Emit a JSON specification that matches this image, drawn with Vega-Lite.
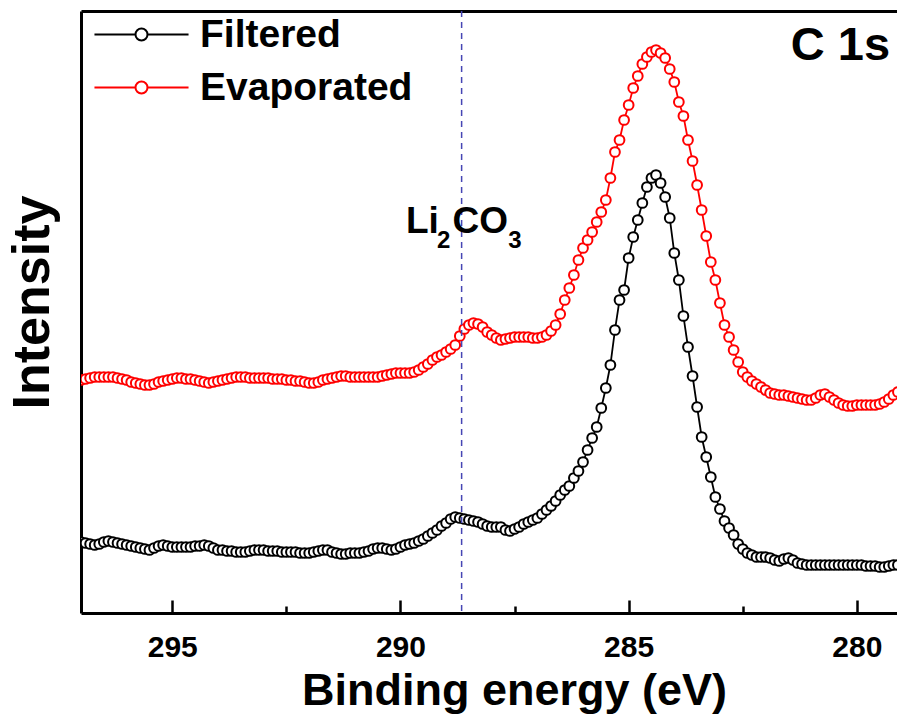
{
  "$schema": "https://vega.github.io/schema/vega-lite/v6.json",
  "width": 816,
  "height": 602,
  "autosize": {"type": "none"},
  "padding": {"left": 81, "top": 11, "right": 0, "bottom": 106},
  "background": "white",
  "config": {"view": {"stroke": null}, "font": "Liberation Sans"},
  "datasets": {
    "spectra": [
      {"e":297,"s":"Filtered","v":71},{"e":296.9,"s":"Filtered","v":70},{"e":296.8,"s":"Filtered","v":69},{"e":296.7,"s":"Filtered","v":68},{"e":296.6,"s":"Filtered","v":69},{"e":296.5,"s":"Filtered","v":71},{"e":296.4,"s":"Filtered","v":72},{"e":296.3,"s":"Filtered","v":71},{"e":296.2,"s":"Filtered","v":70},{"e":296.1,"s":"Filtered","v":69},
      {"e":296,"s":"Filtered","v":68},{"e":295.9,"s":"Filtered","v":67},{"e":295.8,"s":"Filtered","v":66},{"e":295.7,"s":"Filtered","v":65},{"e":295.6,"s":"Filtered","v":64},{"e":295.5,"s":"Filtered","v":63},{"e":295.4,"s":"Filtered","v":65},{"e":295.3,"s":"Filtered","v":67},{"e":295.2,"s":"Filtered","v":68},{"e":295.1,"s":"Filtered","v":67},
      {"e":295,"s":"Filtered","v":66},{"e":294.9,"s":"Filtered","v":66},{"e":294.8,"s":"Filtered","v":66},{"e":294.7,"s":"Filtered","v":66},{"e":294.6,"s":"Filtered","v":66},{"e":294.5,"s":"Filtered","v":67},{"e":294.4,"s":"Filtered","v":67},{"e":294.3,"s":"Filtered","v":68},{"e":294.2,"s":"Filtered","v":67},{"e":294.1,"s":"Filtered","v":65},
      {"e":294,"s":"Filtered","v":63},{"e":293.9,"s":"Filtered","v":63},{"e":293.8,"s":"Filtered","v":62},{"e":293.7,"s":"Filtered","v":62},{"e":293.6,"s":"Filtered","v":61},{"e":293.5,"s":"Filtered","v":61},{"e":293.4,"s":"Filtered","v":61},{"e":293.3,"s":"Filtered","v":62},{"e":293.2,"s":"Filtered","v":63},{"e":293.1,"s":"Filtered","v":63},
      {"e":293,"s":"Filtered","v":63},{"e":292.9,"s":"Filtered","v":62},{"e":292.8,"s":"Filtered","v":62},{"e":292.7,"s":"Filtered","v":62},{"e":292.6,"s":"Filtered","v":61},{"e":292.5,"s":"Filtered","v":61},{"e":292.4,"s":"Filtered","v":61},{"e":292.3,"s":"Filtered","v":61},{"e":292.2,"s":"Filtered","v":60},{"e":292.1,"s":"Filtered","v":60},
      {"e":292,"s":"Filtered","v":60},{"e":291.9,"s":"Filtered","v":61},{"e":291.8,"s":"Filtered","v":62},{"e":291.7,"s":"Filtered","v":63},{"e":291.6,"s":"Filtered","v":63},{"e":291.5,"s":"Filtered","v":61},{"e":291.4,"s":"Filtered","v":60},{"e":291.3,"s":"Filtered","v":59},{"e":291.2,"s":"Filtered","v":59},{"e":291.1,"s":"Filtered","v":60},
      {"e":291,"s":"Filtered","v":60},{"e":290.9,"s":"Filtered","v":60},{"e":290.8,"s":"Filtered","v":61},{"e":290.7,"s":"Filtered","v":62},{"e":290.6,"s":"Filtered","v":64},{"e":290.5,"s":"Filtered","v":65},{"e":290.4,"s":"Filtered","v":65},{"e":290.3,"s":"Filtered","v":64},{"e":290.2,"s":"Filtered","v":63},{"e":290.1,"s":"Filtered","v":64},
      {"e":290,"s":"Filtered","v":66},{"e":289.9,"s":"Filtered","v":68},{"e":289.8,"s":"Filtered","v":69},{"e":289.7,"s":"Filtered","v":70},{"e":289.6,"s":"Filtered","v":72},{"e":289.5,"s":"Filtered","v":74},{"e":289.4,"s":"Filtered","v":77},{"e":289.3,"s":"Filtered","v":80},{"e":289.2,"s":"Filtered","v":83},{"e":289.1,"s":"Filtered","v":87},
      {"e":289,"s":"Filtered","v":90},{"e":288.9,"s":"Filtered","v":94},{"e":288.8,"s":"Filtered","v":96},{"e":288.7,"s":"Filtered","v":95},{"e":288.6,"s":"Filtered","v":94},{"e":288.5,"s":"Filtered","v":93},{"e":288.4,"s":"Filtered","v":92},{"e":288.3,"s":"Filtered","v":91},{"e":288.2,"s":"Filtered","v":89},{"e":288.1,"s":"Filtered","v":87},
      {"e":288,"s":"Filtered","v":86},{"e":287.9,"s":"Filtered","v":86},{"e":287.8,"s":"Filtered","v":86},{"e":287.7,"s":"Filtered","v":83},{"e":287.6,"s":"Filtered","v":82},{"e":287.5,"s":"Filtered","v":84},{"e":287.4,"s":"Filtered","v":86},{"e":287.3,"s":"Filtered","v":89},{"e":287.2,"s":"Filtered","v":91},{"e":287.1,"s":"Filtered","v":93},
      {"e":287,"s":"Filtered","v":95},{"e":286.9,"s":"Filtered","v":99},{"e":286.8,"s":"Filtered","v":103},{"e":286.7,"s":"Filtered","v":107},{"e":286.6,"s":"Filtered","v":112},{"e":286.5,"s":"Filtered","v":118},{"e":286.4,"s":"Filtered","v":123},{"e":286.3,"s":"Filtered","v":127},{"e":286.2,"s":"Filtered","v":135},{"e":286.1,"s":"Filtered","v":142},
      {"e":286,"s":"Filtered","v":151},{"e":285.9,"s":"Filtered","v":163},{"e":285.8,"s":"Filtered","v":175},{"e":285.7,"s":"Filtered","v":186},{"e":285.6,"s":"Filtered","v":205},{"e":285.5,"s":"Filtered","v":225},{"e":285.4,"s":"Filtered","v":248},{"e":285.3,"s":"Filtered","v":283},{"e":285.2,"s":"Filtered","v":313},{"e":285.1,"s":"Filtered","v":323},
      {"e":285,"s":"Filtered","v":355},{"e":284.9,"s":"Filtered","v":376},{"e":284.8,"s":"Filtered","v":393},{"e":284.7,"s":"Filtered","v":410},{"e":284.6,"s":"Filtered","v":426},{"e":284.5,"s":"Filtered","v":435},{"e":284.4,"s":"Filtered","v":438},{"e":284.3,"s":"Filtered","v":430},{"e":284.2,"s":"Filtered","v":416},{"e":284.1,"s":"Filtered","v":395},
      {"e":284,"s":"Filtered","v":360},{"e":283.9,"s":"Filtered","v":333},{"e":283.8,"s":"Filtered","v":297},{"e":283.7,"s":"Filtered","v":266},{"e":283.6,"s":"Filtered","v":237},{"e":283.5,"s":"Filtered","v":206},{"e":283.4,"s":"Filtered","v":176},{"e":283.3,"s":"Filtered","v":156},{"e":283.2,"s":"Filtered","v":136},{"e":283.1,"s":"Filtered","v":116},
      {"e":283,"s":"Filtered","v":104},{"e":282.9,"s":"Filtered","v":92},{"e":282.8,"s":"Filtered","v":85},{"e":282.7,"s":"Filtered","v":78},{"e":282.6,"s":"Filtered","v":69},{"e":282.5,"s":"Filtered","v":64},{"e":282.4,"s":"Filtered","v":60},{"e":282.3,"s":"Filtered","v":58},{"e":282.2,"s":"Filtered","v":56},{"e":282.1,"s":"Filtered","v":56},
      {"e":282,"s":"Filtered","v":56},{"e":281.9,"s":"Filtered","v":55},{"e":281.8,"s":"Filtered","v":53},{"e":281.7,"s":"Filtered","v":52},{"e":281.6,"s":"Filtered","v":54},{"e":281.5,"s":"Filtered","v":55},{"e":281.4,"s":"Filtered","v":53},{"e":281.3,"s":"Filtered","v":50},{"e":281.2,"s":"Filtered","v":49},{"e":281.1,"s":"Filtered","v":48},
      {"e":281,"s":"Filtered","v":48},{"e":280.9,"s":"Filtered","v":48},{"e":280.8,"s":"Filtered","v":48},{"e":280.7,"s":"Filtered","v":48},{"e":280.6,"s":"Filtered","v":48},{"e":280.5,"s":"Filtered","v":48},{"e":280.4,"s":"Filtered","v":48},{"e":280.3,"s":"Filtered","v":48},{"e":280.2,"s":"Filtered","v":48},{"e":280.1,"s":"Filtered","v":48},
      {"e":280,"s":"Filtered","v":48},{"e":279.9,"s":"Filtered","v":48},{"e":279.8,"s":"Filtered","v":47},{"e":279.7,"s":"Filtered","v":47},{"e":279.6,"s":"Filtered","v":47},{"e":279.5,"s":"Filtered","v":46},{"e":279.4,"s":"Filtered","v":46},{"e":279.3,"s":"Filtered","v":47},{"e":279.2,"s":"Filtered","v":48},{"e":279.1,"s":"Filtered","v":48},
      {"e":297,"s":"Evaporated","v":233},{"e":296.9,"s":"Evaporated","v":234},{"e":296.8,"s":"Evaporated","v":235},{"e":296.7,"s":"Evaporated","v":236},{"e":296.6,"s":"Evaporated","v":236},{"e":296.5,"s":"Evaporated","v":236},{"e":296.4,"s":"Evaporated","v":236},{"e":296.3,"s":"Evaporated","v":236},{"e":296.2,"s":"Evaporated","v":235},{"e":296.1,"s":"Evaporated","v":234},
      {"e":296,"s":"Evaporated","v":233},{"e":295.9,"s":"Evaporated","v":231},{"e":295.8,"s":"Evaporated","v":230},{"e":295.7,"s":"Evaporated","v":229},{"e":295.6,"s":"Evaporated","v":228},{"e":295.5,"s":"Evaporated","v":228},{"e":295.4,"s":"Evaporated","v":229},{"e":295.3,"s":"Evaporated","v":231},{"e":295.2,"s":"Evaporated","v":232},{"e":295.1,"s":"Evaporated","v":233},
      {"e":295,"s":"Evaporated","v":234},{"e":294.9,"s":"Evaporated","v":235},{"e":294.8,"s":"Evaporated","v":235},{"e":294.7,"s":"Evaporated","v":234},{"e":294.6,"s":"Evaporated","v":234},{"e":294.5,"s":"Evaporated","v":233},{"e":294.4,"s":"Evaporated","v":232},{"e":294.3,"s":"Evaporated","v":231},{"e":294.2,"s":"Evaporated","v":230},{"e":294.1,"s":"Evaporated","v":231},
      {"e":294,"s":"Evaporated","v":232},{"e":293.9,"s":"Evaporated","v":233},{"e":293.8,"s":"Evaporated","v":234},{"e":293.7,"s":"Evaporated","v":235},{"e":293.6,"s":"Evaporated","v":236},{"e":293.5,"s":"Evaporated","v":236},{"e":293.4,"s":"Evaporated","v":236},{"e":293.3,"s":"Evaporated","v":235},{"e":293.2,"s":"Evaporated","v":235},{"e":293.1,"s":"Evaporated","v":235},
      {"e":293,"s":"Evaporated","v":235},{"e":292.9,"s":"Evaporated","v":235},{"e":292.8,"s":"Evaporated","v":234},{"e":292.7,"s":"Evaporated","v":234},{"e":292.6,"s":"Evaporated","v":234},{"e":292.5,"s":"Evaporated","v":233},{"e":292.4,"s":"Evaporated","v":233},{"e":292.3,"s":"Evaporated","v":232},{"e":292.2,"s":"Evaporated","v":232},{"e":292.1,"s":"Evaporated","v":231},
      {"e":292,"s":"Evaporated","v":230},{"e":291.9,"s":"Evaporated","v":230},{"e":291.8,"s":"Evaporated","v":231},{"e":291.7,"s":"Evaporated","v":233},{"e":291.6,"s":"Evaporated","v":234},{"e":291.5,"s":"Evaporated","v":235},{"e":291.4,"s":"Evaporated","v":236},{"e":291.3,"s":"Evaporated","v":237},{"e":291.2,"s":"Evaporated","v":237},{"e":291.1,"s":"Evaporated","v":236},
      {"e":291,"s":"Evaporated","v":236},{"e":290.9,"s":"Evaporated","v":236},{"e":290.8,"s":"Evaporated","v":236},{"e":290.7,"s":"Evaporated","v":236},{"e":290.6,"s":"Evaporated","v":236},{"e":290.5,"s":"Evaporated","v":236},{"e":290.4,"s":"Evaporated","v":237},{"e":290.3,"s":"Evaporated","v":238},{"e":290.2,"s":"Evaporated","v":239},{"e":290.1,"s":"Evaporated","v":240},
      {"e":290,"s":"Evaporated","v":240},{"e":289.9,"s":"Evaporated","v":240},{"e":289.8,"s":"Evaporated","v":240},{"e":289.7,"s":"Evaporated","v":241},{"e":289.6,"s":"Evaporated","v":243},{"e":289.5,"s":"Evaporated","v":246},{"e":289.4,"s":"Evaporated","v":249},{"e":289.3,"s":"Evaporated","v":253},{"e":289.2,"s":"Evaporated","v":256},{"e":289.1,"s":"Evaporated","v":258},
      {"e":289,"s":"Evaporated","v":261},{"e":288.9,"s":"Evaporated","v":264},{"e":288.8,"s":"Evaporated","v":268},{"e":288.7,"s":"Evaporated","v":277},{"e":288.6,"s":"Evaporated","v":284},{"e":288.5,"s":"Evaporated","v":288},{"e":288.4,"s":"Evaporated","v":290},{"e":288.3,"s":"Evaporated","v":289},{"e":288.2,"s":"Evaporated","v":286},{"e":288.1,"s":"Evaporated","v":281},
      {"e":288,"s":"Evaporated","v":278},{"e":287.9,"s":"Evaporated","v":275},{"e":287.8,"s":"Evaporated","v":273},{"e":287.7,"s":"Evaporated","v":274},{"e":287.6,"s":"Evaporated","v":275},{"e":287.5,"s":"Evaporated","v":276},{"e":287.4,"s":"Evaporated","v":276},{"e":287.3,"s":"Evaporated","v":276},{"e":287.2,"s":"Evaporated","v":276},{"e":287.1,"s":"Evaporated","v":275},
      {"e":287,"s":"Evaporated","v":275},{"e":286.9,"s":"Evaporated","v":276},{"e":286.8,"s":"Evaporated","v":278},{"e":286.7,"s":"Evaporated","v":282},{"e":286.6,"s":"Evaporated","v":288},{"e":286.5,"s":"Evaporated","v":299},{"e":286.4,"s":"Evaporated","v":313},{"e":286.3,"s":"Evaporated","v":325},{"e":286.2,"s":"Evaporated","v":338},{"e":286.1,"s":"Evaporated","v":353},
      {"e":286,"s":"Evaporated","v":365},{"e":285.9,"s":"Evaporated","v":373},{"e":285.8,"s":"Evaporated","v":381},{"e":285.7,"s":"Evaporated","v":391},{"e":285.6,"s":"Evaporated","v":401},{"e":285.5,"s":"Evaporated","v":413},{"e":285.4,"s":"Evaporated","v":435},{"e":285.3,"s":"Evaporated","v":461},{"e":285.2,"s":"Evaporated","v":473},{"e":285.1,"s":"Evaporated","v":493},
      {"e":285,"s":"Evaporated","v":508},{"e":284.9,"s":"Evaporated","v":525},{"e":284.8,"s":"Evaporated","v":537},{"e":284.7,"s":"Evaporated","v":549},{"e":284.6,"s":"Evaporated","v":556},{"e":284.5,"s":"Evaporated","v":561},{"e":284.4,"s":"Evaporated","v":563},{"e":284.3,"s":"Evaporated","v":560},{"e":284.2,"s":"Evaporated","v":555},{"e":284.1,"s":"Evaporated","v":544},
      {"e":284,"s":"Evaporated","v":531},{"e":283.9,"s":"Evaporated","v":511},{"e":283.8,"s":"Evaporated","v":497},{"e":283.7,"s":"Evaporated","v":473},{"e":283.6,"s":"Evaporated","v":452},{"e":283.5,"s":"Evaporated","v":428},{"e":283.4,"s":"Evaporated","v":403},{"e":283.3,"s":"Evaporated","v":377},{"e":283.2,"s":"Evaporated","v":351},{"e":283.1,"s":"Evaporated","v":333},
      {"e":283,"s":"Evaporated","v":310},{"e":282.9,"s":"Evaporated","v":288},{"e":282.8,"s":"Evaporated","v":276},{"e":282.7,"s":"Evaporated","v":263},{"e":282.6,"s":"Evaporated","v":251},{"e":282.5,"s":"Evaporated","v":241},{"e":282.4,"s":"Evaporated","v":236},{"e":282.3,"s":"Evaporated","v":232},{"e":282.2,"s":"Evaporated","v":229},{"e":282.1,"s":"Evaporated","v":226},
      {"e":282,"s":"Evaporated","v":223},{"e":281.9,"s":"Evaporated","v":220},{"e":281.8,"s":"Evaporated","v":219},{"e":281.7,"s":"Evaporated","v":218},{"e":281.6,"s":"Evaporated","v":218},{"e":281.5,"s":"Evaporated","v":217},{"e":281.4,"s":"Evaporated","v":216},{"e":281.3,"s":"Evaporated","v":215},{"e":281.2,"s":"Evaporated","v":214},{"e":281.1,"s":"Evaporated","v":213},
      {"e":281,"s":"Evaporated","v":213},{"e":280.9,"s":"Evaporated","v":215},{"e":280.8,"s":"Evaporated","v":218},{"e":280.7,"s":"Evaporated","v":219},{"e":280.6,"s":"Evaporated","v":216},{"e":280.5,"s":"Evaporated","v":213},{"e":280.4,"s":"Evaporated","v":210},{"e":280.3,"s":"Evaporated","v":208},{"e":280.2,"s":"Evaporated","v":207},{"e":280.1,"s":"Evaporated","v":207},
      {"e":280,"s":"Evaporated","v":208},{"e":279.9,"s":"Evaporated","v":208},{"e":279.8,"s":"Evaporated","v":208},{"e":279.7,"s":"Evaporated","v":208},{"e":279.6,"s":"Evaporated","v":208},{"e":279.5,"s":"Evaporated","v":209},{"e":279.4,"s":"Evaporated","v":211},{"e":279.3,"s":"Evaporated","v":214},{"e":279.2,"s":"Evaporated","v":218},{"e":279.1,"s":"Evaporated","v":221}
    ],
    "marker": [{"e": 288.66}],
    "liMain": [{"e": 289.88, "v": 380, "t": "Li"}, {"e": 288.86, "v": 380, "t": "CO"}],
    "liSub": [{"e": 289.2, "v": 365, "t": "2"}, {"e": 287.64, "v": 365, "t": "3"}],
    "core": [{"e": 279.27, "v": 553, "t": "C 1s"}]
  },
  "resolve": {"axis": {"x": "independent"}},
  "layer": [
    {
      "data": {"name": "spectra"},
      "mark": {"type": "line", "strokeWidth": 1.8, "clip": true},
      "encoding": {
        "x": {
          "field": "e", "type": "quantitative",
          "scale": {"domain": [297, 279.12], "nice": false, "zero": false},
          "axis": {
            "orient": "bottom",
            "values": [295, 292.5, 290, 287.5, 285, 282.5, 280],
            "format": "d",
            "labelExpr": "datum.value % 5 === 0 ? datum.label : ''",
            "tickSize": {"condition": {"test": "datum.value % 5 === 0", "value": -13}, "value": -7},
            "tickWidth": 2.5, "tickColor": "black",
            "domainWidth": 3, "domainColor": "black",
            "labelFont": "Liberation Sans", "labelFontSize": 30, "labelFontWeight": "bold", "labelColor": "black",
            "labelPadding": 32,
            "title": "Binding energy (eV)",
            "titleFont": "Liberation Sans", "titleFontSize": 45, "titleFontWeight": "bold", "titleColor": "black",
            "titlePadding": 6,
            "titleX": 433, "titleAlign": "center",
            "grid": false
          }
        },
        "y": {
          "field": "v", "type": "quantitative",
          "scale": {"domain": [0, 602], "nice": false, "zero": false},
          "axis": {
            "orient": "left", "ticks": false, "labels": false,
            "domainWidth": 3, "domainColor": "black", "grid": false,
            "title": "Intensity",
            "titleFont": "Liberation Sans", "titleFontSize": 52, "titleFontWeight": "bold", "titleColor": "black",
            "titlePadding": 22,
            "titleY": 291, "titleAlign": "center"
          }
        },
        "color": {
          "field": "s", "type": "nominal",
          "scale": {"domain": ["Filtered", "Evaporated"], "range": ["black", "#ff0000"]},
          "legend": {
            "orient": "none", "legendX": 41, "legendY": 4, "title": null, "padding": 0,
            "symbolType": "M-3.92,0L-0.5,0M0.5,0L3.92,0M0.5,0A0.5,0.5,0,1,1,-0.5,0A0.5,0.5,0,1,1,0.5,0",
            "symbolSize": 576, "symbolStrokeWidth": 2, "symbolFillColor": "white",
            "labelFont": "Liberation Sans", "labelFontSize": 39, "labelFontWeight": "bold", "labelColor": "black",
            "labelOffset": 39, "labelLimit": 0, "rowPadding": 13,
            "encode": {"symbols": {"update": {"fill": {"value": "white"}, "strokeWidth": {"value": 2}}}}
          }
        }
      }
    },
    {
      "data": {"name": "spectra"},
      "mark": {"type": "point", "shape": "circle", "filled": false, "fill": "white", "size": 95, "strokeWidth": 2, "opacity": 1, "clip": true},
      "encoding": {
        "x": {
          "field": "e", "type": "quantitative",
          "axis": {"orient": "top", "ticks": false, "labels": false, "domainWidth": 3, "domainColor": "black", "grid": false, "title": null}
        },
        "y": {"field": "v", "type": "quantitative"},
        "color": {"field": "s", "type": "nominal"}
      }
    },
    {
      "data": {"name": "marker"},
      "mark": {"type": "rule", "strokeDash": [6, 5], "strokeWidth": 1.5, "color": "#4646b4"},
      "encoding": {
        "x": {"field": "e", "type": "quantitative", "axis": null}
      }
    },
    {
      "data": {"name": "liMain"},
      "mark": {"type": "text", "font": "Liberation Sans", "fontSize": 37, "fontWeight": "bold", "align": "left", "baseline": "alphabetic", "color": "black"},
      "encoding": {
        "x": {"field": "e", "type": "quantitative", "axis": null},
        "y": {"field": "v", "type": "quantitative"},
        "text": {"field": "t"}
      }
    },
    {
      "data": {"name": "liSub"},
      "mark": {"type": "text", "font": "Liberation Sans", "fontSize": 24, "fontWeight": "bold", "align": "left", "baseline": "alphabetic", "color": "black"},
      "encoding": {
        "x": {"field": "e", "type": "quantitative", "axis": null},
        "y": {"field": "v", "type": "quantitative"},
        "text": {"field": "t"}
      }
    },
    {
      "data": {"name": "core"},
      "mark": {"type": "text", "font": "Liberation Sans", "fontSize": 47, "fontWeight": "bold", "align": "right", "baseline": "alphabetic", "color": "black"},
      "encoding": {
        "x": {"field": "e", "type": "quantitative", "axis": null},
        "y": {"field": "v", "type": "quantitative"},
        "text": {"field": "t"}
      }
    }
  ]
}
